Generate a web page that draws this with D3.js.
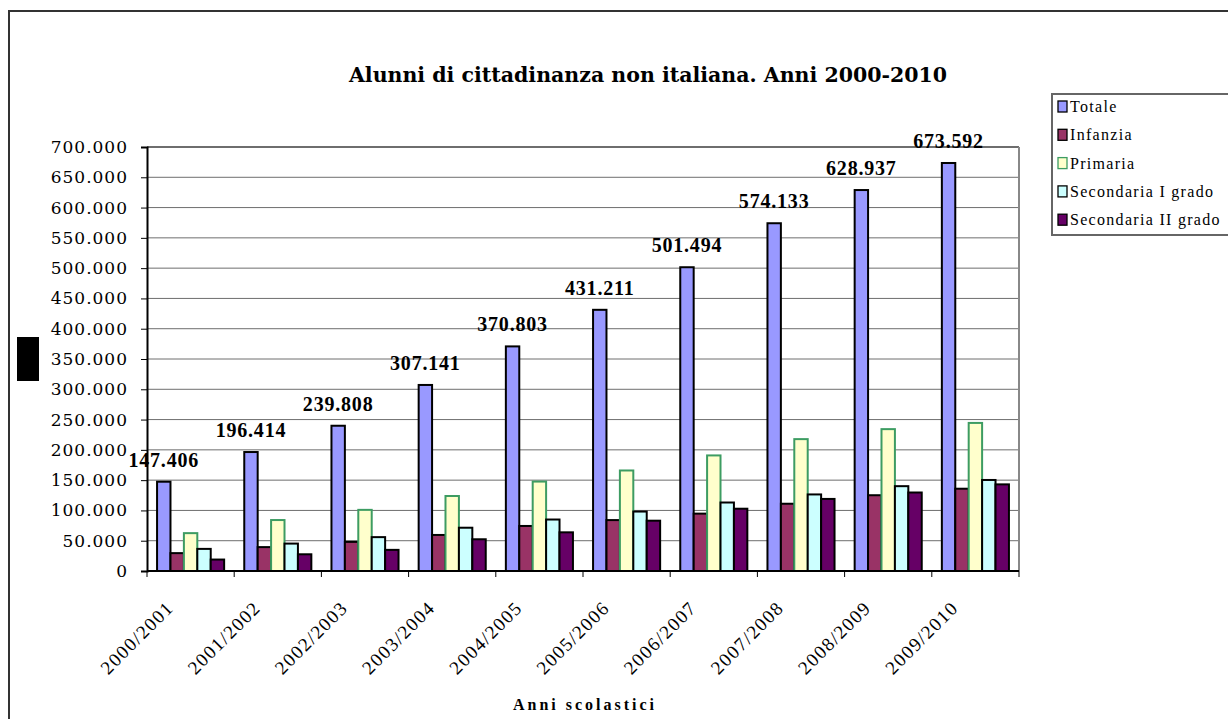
<!DOCTYPE html>
<html>
<head>
<meta charset="utf-8">
<script src="https://cdn.jsdelivr.net/npm/d3@7"></script>
<style>
  body { margin: 0; background: #fff; }
  svg { display: block; }
</style>
</head>
<body>
<script>
(function() {

  /* chart values */
  var years = ["2000/2001", "2001/2002", "2002/2003", "2003/2004", "2004/2005",
               "2005/2006", "2006/2007", "2007/2008", "2008/2009", "2009/2010"];
  var seriesNames = ["Totale", "Infanzia", "Primaria", "Secondaria I grado", "Secondaria II grado"];
  var totale       = [147406, 196414, 239808, 307141, 370803, 431211, 501494, 574133, 628937, 673592];
  var infanzia     = [29500, 39445, 48072, 59500, 74348, 84058, 94712, 111044, 125092, 135840];
  var primaria     = [62500, 84122, 100939, 123814, 147633, 165951, 190803, 217716, 234206, 244457];
  var secondariaI  = [36500, 45253, 55907, 71447, 84989, 98150, 113076, 126396, 140050, 150279];
  var secondariaII = [18900, 27594, 34890, 52380, 63833, 83052, 102829, 118977, 129589, 143016];
  var yTicks = d3.range(0, 700001, 50000);

  var seriesValues = [totale, infanzia, primaria, secondariaI, secondariaII];
  var fills   = ["#9999ff", "#993366", "#ffffcc", "#ccffff", "#660066"];
  var strokes = ["#000", "#000", "#3d9c62", "#000", "#000"];

  var W = 1228, H = 719;
  var plot = {left: 147, right: 1019, top: 147, bottom: 571};

  // italian number format 700.000
  var it = d3.formatLocale({decimal: ",", thousands: ".", grouping: [3], currency: ["", " €"]});
  var fmt = it.format(",");

  var svg = d3.select("body").append("svg")
      .attr("width", W)
      .attr("height", H);

  // outer chart border (runs off the right and bottom)
  svg.append("rect")
      .attr("x", 9).attr("y", 11)
      .attr("width", W + 20).attr("height", H + 20)
      .attr("fill", "none")
      .attr("stroke", "#333")
      .attr("stroke-width", 2);

  svg.append("text")
      .attr("x", 648).attr("y", 82)
      .attr("text-anchor", "middle")
      .style("font-family", "'DejaVu Serif', serif")
      .style("font-weight", "bold")
      .style("font-size", "20.5px")
      .text("Alunni di cittadinanza non italiana. Anni 2000-2010");

  // scales
  var x0 = d3.scaleBand().domain(years).range([plot.left, plot.right]).padding(0);
  var x1 = d3.scaleBand().domain(seriesNames).range([0, x0.bandwidth()])
      .paddingInner(0).paddingOuter(0.75);
  var y = d3.scaleLinear().domain([0, 700000]).range([plot.bottom, plot.top]);

  // gridlines
  svg.append("g").selectAll("line")
      .data(yTicks.filter(function(d) { return d > 0; }))
    .enter().append("line")
      .attr("x1", plot.left).attr("x2", plot.right)
      .attr("y1", function(d) { return y(d); })
      .attr("y2", function(d) { return y(d); })
      .attr("stroke", "#6e6e6e")
      .attr("stroke-width", function(d) { return d == 700000 ? 2 : 1; });

  // plot area right border
  svg.append("line")
      .attr("x1", plot.right).attr("x2", plot.right)
      .attr("y1", plot.top).attr("y2", plot.bottom)
      .attr("stroke", "#888").attr("stroke-width", 2);

  // bars
  var groups = svg.append("g").selectAll("g")
      .data(years)
    .enter().append("g")
      .attr("transform", function(d) { return "translate(" + x0(d) + ",0)"; });

  groups.selectAll("rect")
      .data(function(d, i) {
        return seriesNames.map(function(s, k) { return {name: s, k: k, value: seriesValues[k][i]}; });
      })
    .enter().append("rect")
      .attr("x", function(d) { return x1(d.name); })
      .attr("width", x1.bandwidth())
      .attr("y", function(d) { return y(d.value); })
      .attr("height", function(d) { return y(0) - y(d.value); })
      .attr("fill", function(d) { return fills[d.k]; })
      .attr("stroke", function(d) { return strokes[d.k]; })
      .attr("stroke-width", 2);

  // labels over the Totale bars
  svg.append("g").selectAll("text")
      .data(years)
    .enter().append("text")
      .attr("x", function(d) { return x0(d) + x1("Totale") + x1.bandwidth() / 2; })
      .attr("y", function(d, i) { return y(totale[i]) - 15; })
      .attr("text-anchor", "middle")
      .style("font-family", "'Liberation Serif', serif")
      .style("font-weight", "bold")
      .style("font-size", "20px")
      .style("letter-spacing", "0.8px")
      .text(function(d, i) { return fmt(totale[i]); });

  // y axis
  var yAxis = svg.append("g")
      .attr("transform", "translate(" + plot.left + ",0)")
      .call(d3.axisLeft(y).tickValues(yTicks).tickFormat(fmt).tickSize(6).tickPadding(13));
  yAxis.select(".domain").attr("stroke", "#000").attr("stroke-width", 2);
  yAxis.selectAll(".tick line").attr("stroke", "#000");
  yAxis.selectAll("text")
      .style("font-family", "'DejaVu Serif', serif")
      .style("font-size", "17px")
      .style("letter-spacing", "1px")
      .attr("fill", "#000");

  // x axis: ticks between categories
  var xAxis = svg.append("g");
  xAxis.append("line")
      .attr("x1", plot.left).attr("x2", plot.right)
      .attr("y1", plot.bottom).attr("y2", plot.bottom)
      .attr("stroke", "#000").attr("stroke-width", 2);
  xAxis.selectAll(".xt")
      .data(years.concat(["end"]))
    .enter().append("line")
      .attr("class", "xt")
      .attr("x1", function(d, i) { return plot.left + i * x0.step(); })
      .attr("x2", function(d, i) { return plot.left + i * x0.step(); })
      .attr("y1", plot.bottom).attr("y2", plot.bottom + 6)
      .attr("stroke", "#000");
  xAxis.selectAll("text")
      .data(years)
    .enter().append("text")
      .attr("transform", function(d) {
        return "translate(" + (x0(d) + x0.bandwidth() / 2 - 16) + "," + (plot.bottom + 38) + ") rotate(-45)";
      })
      .attr("text-anchor", "end")
      .style("font-family", "'Liberation Serif', serif")
      .style("font-size", "19px")
      .style("letter-spacing", "1.4px")
      .text(function(d) { return d; });

  svg.append("text")
      .attr("x", 585).attr("y", 710)
      .attr("text-anchor", "middle")
      .style("font-family", "'Liberation Serif', serif")
      .style("font-weight", "bold")
      .style("font-size", "16px")
      .style("letter-spacing", "3px")
      .text("Anni scolastici");

  // black block left of the axis
  svg.append("rect")
      .attr("x", 17).attr("y", 337)
      .attr("width", 22).attr("height", 44)
      .attr("fill", "#000");

  // legend
  var lg = svg.append("g").attr("transform", "translate(1052,94)");
  lg.append("rect")
      .attr("x", 0).attr("y", 0)
      .attr("width", 200).attr("height", 141)
      .attr("fill", "#fff")
      .attr("stroke", "#666")
      .attr("stroke-width", 2);
  var item = lg.selectAll(".item")
      .data(seriesNames)
    .enter().append("g")
      .attr("class", "item")
      .attr("transform", function(d, i) { return "translate(6," + (13 + i * 28.3) + ")"; });
  item.append("rect")
      .attr("x", 0).attr("y", -6)
      .attr("width", 9).attr("height", 11)
      .attr("fill", function(d, i) { return fills[i]; })
      .attr("stroke", function(d, i) { return strokes[i]; })
      .attr("stroke-width", 1.3);
  item.append("text")
      .attr("x", 12).attr("y", 5)
      .style("font-family", "'Liberation Serif', serif")
      .style("font-size", "16px")
      .style("letter-spacing", "1.3px")
      .text(function(d) { return d; });

})();
</script>
</body>
</html>
